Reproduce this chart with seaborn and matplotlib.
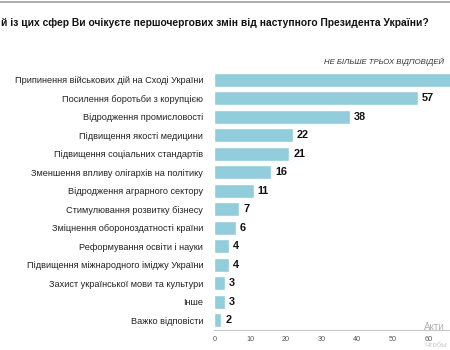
import matplotlib
matplotlib.use("Agg")
import matplotlib.pyplot as plt
import seaborn as sns
import pandas as pd

categories = [
    "Припинення військових дій на Сході України",
    "Посилення боротьби з корупцією",
    "Відродження промисловості",
    "Підвищення якості медицини",
    "Підвищення соціальних стандартів",
    "Зменшення впливу олігархів на політику",
    "Відродження аграрного сектору",
    "Стимулювання розвитку бізнесу",
    "Зміцнення обороноздатності країни",
    "Реформування освіти і науки",
    "Підвищення міжнародного іміджу України",
    "Захист української мови та культури",
    "Інше",
    "Важко відповісти",
]
values = [69, 57, 38, 22, 21, 16, 11, 7, 6, 4, 4, 3, 3, 2]
x_ticks = [0, 10, 20, 30, 40, 50, 60]

title = "й із цих сфер Ви очікуєте першочергових змін від наступного Президента України?"
subtitle = "НЕ БІЛЬШЕ ТРЬОХ ВІДПОВІДЕЙ"

sns.set_style("white")
plt.rcParams["font.family"] = ["Liberation Sans", "DejaVu Sans"]

df = pd.DataFrame({"cat": categories, "val": values})

W, H = 450, 350
fig = plt.figure(figsize=(4.5, 3.5), dpi=100)
fig.patch.set_facecolor("white")

left = 214.3 / W
px_per_unit = 3.57
xmax = (W - 214.3) / px_per_unit
ax = fig.add_axes([left, (H - 329.5) / H, 1 - left, (329.5 - 70.5) / H])

sns.barplot(data=df, x="val", y="cat", color="#92CDDC", saturation=1,
            width=0.76, ax=ax, orient="h")
ax.set_xlim(0, xmax)
ax.set_xlabel("")
ax.set_ylabel("")
ax.set_xticks(x_ticks)
ax.set_xticklabels([str(t) for t in x_ticks], fontsize=5.2, color="#555555")
ax.tick_params(axis="x", length=2, width=0.6, color="#BBBBBB", pad=3)
ax.tick_params(axis="y", length=0, pad=8)
for lab in ax.get_yticklabels():
    lab.set_fontsize(6.6)
    lab.set_color("#222222")
for s in ["top", "right", "left"]:
    ax.spines[s].set_visible(False)
ax.spines["bottom"].set_color("#C8C8C8")
ax.spines["bottom"].set_linewidth(0.8)

for i, v in enumerate(values):
    if i == 0:
        continue
    ax.text(v + 1.1, i, str(v), va="center", ha="left",
            fontsize=7.8, fontweight="bold", color="#111111")

# top border line
fig.add_artist(plt.Line2D([0, 1], [1 - 2 / H, 1 - 2 / H], color="#A0A0A0", lw=1.2))

fig.text(1 / W, 1 - 23 / H, title, fontsize=7.4, fontweight="bold",
         color="#111111", ha="left", va="center")
fig.text(444 / W, 1 - 62 / H, subtitle, fontsize=5.6, style="italic",
         color="#333333", ha="right", va="center")

fig.text(424 / W, 1 - 327 / H, "Акти", fontsize=7, color="#B0B0B0",
         ha="left", va="center")
fig.text(424 / W, 1 - 345.5 / H, "Чтобы", fontsize=5.5, color="#C8C8C8",
         ha="left", va="center")

fig.savefig("out.png", dpi=100)
